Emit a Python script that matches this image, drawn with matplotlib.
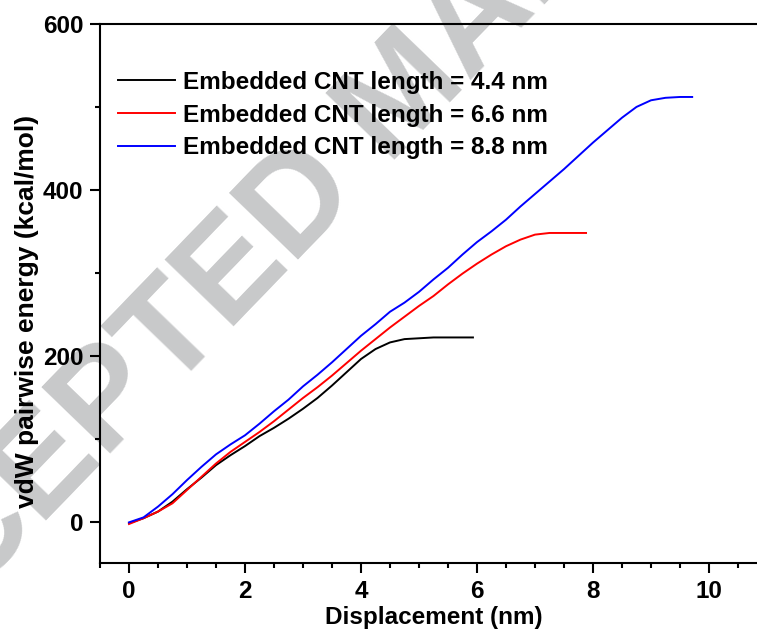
import matplotlib
matplotlib.use('Agg')
import matplotlib.pyplot as plt
from matplotlib.ticker import MultipleLocator

plt.rcParams['font.family'] = ['Liberation Sans', 'DejaVu Sans']
plt.rcParams['font.weight'] = 'bold'
plt.rcParams['font.size'] = 17.5

# displacement (nm) / vdW pairwise energy (kcal/mol)
x_44 = [0, 0.25, 0.5, 0.75, 1.0, 1.25, 1.5, 1.75, 2.0, 2.25, 2.5, 2.75, 3.0, 3.25,
        3.5, 3.75, 4.0, 4.25, 4.5, 4.75, 5.0, 5.25, 5.5, 5.93]
e_44 = [-2, 4, 12, 24, 39, 53, 68, 80, 91, 103, 113, 124, 136, 149,
        164, 180, 196, 208, 216, 220, 221, 222, 222, 222]

x_66 = [0, 0.25, 0.5, 0.75, 1.0, 1.25, 1.5, 1.75, 2.0, 2.25, 2.5, 2.75, 3.0, 3.25,
        3.5, 3.75, 4.0, 4.25, 4.5, 4.75, 5.0, 5.25, 5.5, 5.75, 6.0, 6.25, 6.5, 6.75,
        7.0, 7.25, 7.5, 7.75, 7.88]
e_66 = [-3, 4, 12, 22, 38, 54, 70, 84, 96, 108, 121, 135, 149, 162,
        176, 191, 206, 220, 234, 247, 260, 272, 286, 299, 311, 322, 332, 340,
        346, 348, 348, 348, 348]

x_88 = [0, 0.25, 0.5, 0.75, 1.0, 1.25, 1.5, 1.75, 2.0, 2.25, 2.5, 2.75, 3.0, 3.25,
        3.5, 3.75, 4.0, 4.25, 4.5, 4.75, 5.0, 5.25, 5.5, 5.75, 6.0, 6.25, 6.5, 6.75,
        7.0, 7.25, 7.5, 7.75, 8.0, 8.25, 8.5, 8.75, 9.0, 9.25, 9.5, 9.71]
e_88 = [-1, 5, 18, 33, 50, 66, 81, 93, 104, 118, 133, 147, 163, 177,
        192, 208, 224, 238, 253, 264, 277, 292, 306, 322, 337, 350, 364, 380,
        395, 410, 425, 441, 457, 472, 487, 500, 508, 511, 512, 512]

labels = ['Embedded CNT length = 4.4 nm',
          'Embedded CNT length = 6.6 nm',
          'Embedded CNT length = 8.8 nm']
colors = ['black', 'red', 'blue']

W, H = 757, 634
fig = plt.figure(figsize=(W / 100, H / 100), dpi=100)

# grey watermark behind the plot
fig.text(406 / W, 1 - 97 / H, 'ACCEPTED MANUSCRIPT', fontsize=100, fontweight='bold',
         color='#c8c9ca', rotation=46, ha='center', va='center',
         rotation_mode='anchor', zorder=-1)

ax = fig.add_axes([100 / W, 1 - 563 / H, 667 / W, 539 / H])
ax.set_facecolor('none')

for xs, ys, c, lab in zip([x_44, x_66, x_88], [e_44, e_66, e_88], colors, labels):
  ax.plot(xs, ys, color=c, lw=1.4, label=lab)

ax.set_xlim(-0.5, 11)
ax.set_ylim(-50, 600)
ax.xaxis.set_major_locator(MultipleLocator(2))
ax.xaxis.set_minor_locator(MultipleLocator(0.5))
ax.yaxis.set_major_locator(MultipleLocator(200))
ax.yaxis.set_minor_locator(MultipleLocator(100))
ax.tick_params(which='major', direction='out', length=7, width=1.5, pad=5)
ax.tick_params(which='minor', direction='out', length=3.6, width=1.5)
ax.tick_params(top=False, right=False, which='both')
for s in ax.spines.values():
  s.set_linewidth(1.5)

ax.set_xlabel('Displacement (nm)', fontweight='bold')
ax.set_ylabel('vdW pairwise energy (kcal/mol)', fontweight='bold', fontsize=19)
ax.yaxis.set_label_coords(-0.109, 0.466)
ax.yaxis.label.set_va('center')
ax.xaxis.set_label_coords(0.5, -0.102)
ax.xaxis.label.set_va('center')

ax.legend(loc='upper left', bbox_to_anchor=(118 / W, 1 - 71 / H),
          bbox_transform=fig.transFigure, frameon=False, borderpad=0,
          borderaxespad=0, handlelength=2.35, handletextpad=0.33,
          labelspacing=0.4)

plt.savefig('out.png', dpi=100)
